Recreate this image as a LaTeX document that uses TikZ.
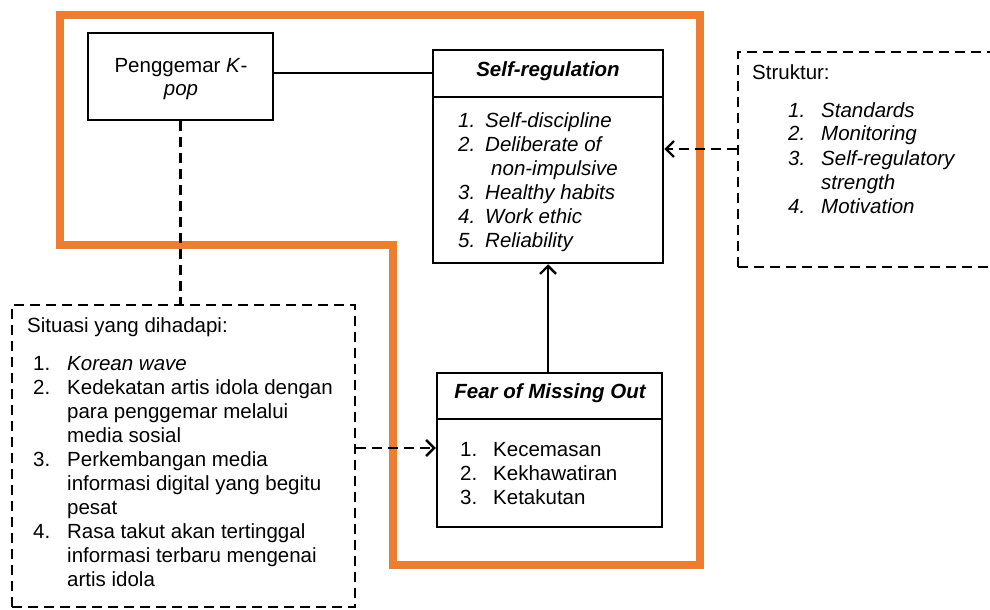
\documentclass[tikz,border=0pt]{standalone}
\usepackage{fontspec}
\setmainfont{Liberation Sans}
\usetikzlibrary{arrows.meta}
\definecolor{borange}{HTML}{ED7D31}
\newcommand\nb[2]{\makebox[#1pt][l]{#2}}
\begin{document}
\begin{tikzpicture}[x=1pt,y=-1pt,
  box/.style={draw, line width=2.5pt, rectangle, inner sep=0pt},
  dbox/.style={draw, line width=2.2pt, dash pattern=on 10pt off 6pt, rectangle, inner sep=0pt},
  conn/.style={line width=2.4pt},
  dconn/.style={line width=2.4pt, dash pattern=on 10pt off 6pt},
  arrowtip/.style={-{Straight Barb[length=8pt,width=16pt,line width=2.4pt]}},
  txt/.style={inner sep=0pt, anchor=base west, font=\fontsize{20.5}{24}\selectfont},
  ctxt/.style={inner sep=0pt, anchor=base, align=center, font=\fontsize{20.5}{24}\selectfont},
  ttl/.style={inner sep=0pt, anchor=base, font=\fontsize{20.5}{24}\selectfont\bfseries\itshape}]
\useasboundingbox (0,0) rectangle (990,610);
\clip (0,0) rectangle (990,610);
% orange frame
\draw[borange, line width=7.5pt, line join=miter] (60,15) -- (700,15) -- (700,565) -- (393,565) -- (393,245) -- (60,245) -- cycle;
% boxes
\node[box, minimum width=185, minimum height=87] (kpop) at (180.5,76.5) {};
\node[box, minimum width=230, minimum height=213] (selfreg) at (548,156.5) {};
\node[box, minimum width=225, minimum height=154] (fomo) at (549.5,450) {};
\node[dbox, minimum width=262, minimum height=215] (struktur) at (869,159.5) {};
\node[dbox, minimum width=343, minimum height=302] (situasi) at (183.5,456) {};
% header separators
\draw[conn] (selfreg.west |- 0,97) -- (selfreg.east |- 0,97);
\draw[conn] (fomo.west |- 0,419) -- (fomo.east |- 0,419);
% titles
\node[ctxt] (kpoptext) at (181,72) {Penggemar \textit{K}-};
\node[ctxt] (kpoptext2) at (181,95) {\textit{pop}};
\node[ttl] (srtitle) at (548,77) {Self-regulation};
\node[ttl] (fomotitle) at (550,398) {Fear of Missing Out};
% lists
\node[txt, font=\fontsize{20.5}{24}\selectfont\itshape] (srlist) at (458,127) {\begin{tabular}[t]{@{}l@{}}
\nb{27}{1.}Self-discipline\\
\nb{27}{2.}Deliberate of\\
\hspace*{33pt}non-impulsive\\
\nb{27}{3.}Healthy habits\\
\nb{27}{4.}Work ethic\\
\nb{27}{5.}Reliability
\end{tabular}};
\node[txt] (strhead) at (752,79) {Struktur:};
\node[txt, font=\fontsize{20.5}{24}\selectfont\itshape] (strlist) at (788,117) {\begin{tabular}[t]{@{}l@{}}
\nb{33}{1.}Standards\\
\nb{33}{2.}Monitoring\\
\nb{33}{3.}Self-regulatory\\
\hspace*{33pt}strength\\
\nb{33}{4.}Motivation
\end{tabular}};
\node[txt] (sithead) at (27,332) {Situasi yang dihadapi:};
\node[txt] (sitlist) at (33,370) {\begin{tabular}[t]{@{}l@{}}
\nb{34}{1.}\textit{Korean wave}\\
\nb{34}{2.}Kedekatan artis idola dengan\\
\hspace*{34pt}para penggemar melalui\\
\hspace*{34pt}media sosial\\
\nb{34}{3.}Perkembangan media\\
\hspace*{34pt}informasi digital yang begitu\\
\hspace*{34pt}pesat\\
\nb{34}{4.}Rasa takut akan tertinggal\\
\hspace*{34pt}informasi terbaru mengenai\\
\hspace*{34pt}artis idola
\end{tabular}};
\node[txt] (fomolist) at (460,456) {\begin{tabular}[t]{@{}l@{}}
\nb{33}{1.}Kecemasan\\
\nb{33}{2.}Kekhawatiran\\
\nb{33}{3.}Ketakutan
\end{tabular}};
% connectors
\draw[conn] (kpop.east |- 0,73) -- (selfreg.west |- 0,73);
\draw[dconn] (kpop.south) -- (kpop.south |- situasi.north);
\draw[dconn, arrowtip] (struktur.west |- 0,149) -- (selfreg.east |- 0,149);
\draw[dconn, arrowtip] (situasi.east |- 0,448) -- (fomo.west |- 0,448);
\draw[conn, arrowtip] (fomo.north -| 548,0) -- (selfreg.south -| 548,0);
\end{tikzpicture}
\end{document}
